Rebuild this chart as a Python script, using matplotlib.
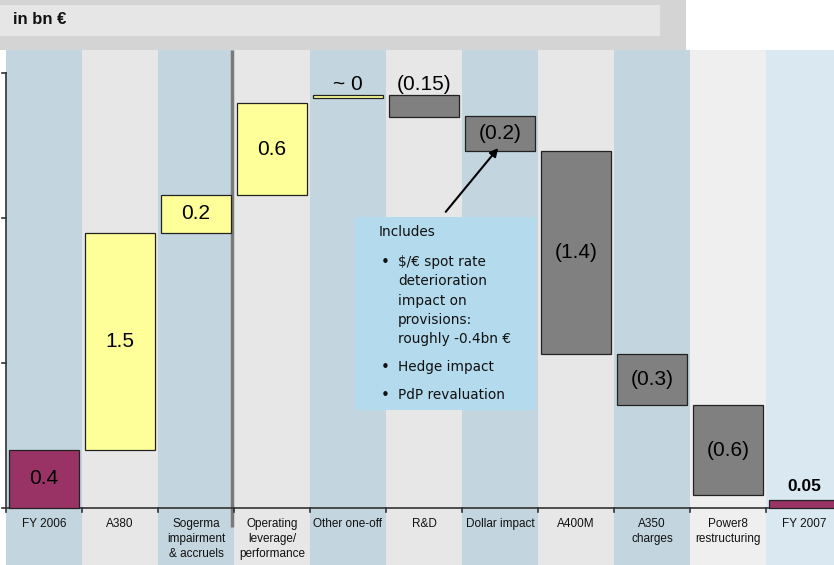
import matplotlib
matplotlib.use('Agg')
import matplotlib.pyplot as plt
from matplotlib.patches import Rectangle

# chart data (bn EUR)
categories = ['FY 2006', 'A380', 'Sogerma\nimpairment\n& accruels', 'Operating\nleverage/\nperformance',
              'Other one-off', 'R&D', 'Dollar impact', 'A400M', 'A350\ncharges',
              'Power8\nrestructuring', 'FY 2007']
bar_bottom = [0.0, 0.40, 1.90, 2.16, 2.83, 2.70, 2.46, 1.06, 0.71, 0.09, 0.0]
bar_top = [0.40, 1.90, 2.16, 2.79, 2.85, 2.85, 2.70, 2.46, 1.06, 0.71, 0.055]
value_labels = ['0.4', '1.5', '0.2', '0.6', '~ 0', '(0.15)', '(0.2)', '(1.4)', '(0.3)', '(0.6)', '0.05']
bar_kind = ['total', 'up', 'up', 'up', 'up', 'down', 'down', 'down', 'down', 'down', 'total']
y_ticks = [0, 1, 2, 3]

callout_title = 'Includes'
callout_items = ['$/€ spot rate\ndeterioration\nimpact on\nprovisions:\nroughly -0.4bn €',
                 'Hedge impact', 'PdP revaluation']

W, H = 834, 565
colors = {'total': '#993366', 'up': '#ffff99', 'down': '#808080'}

fig = plt.figure(figsize=(W / 100, H / 100), dpi=100)
ax = fig.add_axes([0, 0, 1, 1])
# 1 column = 76 px, 1 bn = 145 px, baseline at y=508 px, first column centre at x=44 px
ax.set_xlim((0 - 44) / 76, (W - 44) / 76)
ax.set_ylim((508 - H) / 145, 508 / 145)
ax.axis('off')


def px(x, y):
    # pixel position -> axes fraction
    return x / W, 1 - y / H


# header band
ax.add_patch(Rectangle((0, 1 - 50 / H), 686 / W, 50 / H, transform=ax.transAxes,
                       facecolor='#d4d4d4', edgecolor='none', zorder=0))
ax.add_patch(Rectangle((0, 1 - 36 / H), 660 / W, 31 / H, transform=ax.transAxes,
                       facecolor='#e6e6e6', edgecolor='none', zorder=0))
ax.text(*px(13, 20), 'in bn €', transform=ax.transAxes, fontsize=12, fontweight='bold',
        family='Liberation Sans', va='center', ha='left', color='#111111')

# column stripes
stripe_top = 1 - 50 / H
for i in range(len(categories)):
    if i % 2 == 0:
        c = '#dae9f1' if i == len(categories) - 1 else '#c3d5df'
    else:
        c = '#efefef' if i == 9 else '#e7e7e7'
    ax.axvspan(i - 0.5, i + 0.5, ymin=0, ymax=stripe_top, facecolor=c, edgecolor='none', zorder=0.5)

# separator line
ax.plot([2.47, 2.47], [-0.131, 3.159], color='#7a7a7a', lw=2.5, zorder=1, solid_capstyle='butt')

# axes lines and ticks
ax.plot([-0.5, -0.5], [0, 3], color='#333333', lw=1.2, zorder=2)
ax.plot([-0.5, 10.5], [0, 0], color='#333333', lw=1.2, zorder=2, clip_on=False)
for t in y_ticks:
    ax.plot([-0.55, -0.5], [t, t], color='#333333', lw=1.2, zorder=2)
for i in range(len(categories)):
    ax.plot([i - 0.5, i - 0.5], [0, -0.03], color='#333333', lw=1.2, zorder=2)

# bars
heights = [t - b for b, t in zip(bar_bottom, bar_top)]
ax.bar(range(len(categories)), heights, bottom=bar_bottom, width=0.92,
       color=[colors[k] for k in bar_kind], edgecolor='#222222', linewidth=0.9, zorder=3)

# value labels
for i, lab in enumerate(value_labels):
    if i in (4, 5):
        ax.text(i, 2.92, lab, ha='center', va='center', fontsize=15, family='Liberation Sans', zorder=4)
    elif i == 10:
        ax.text(i, 0.145, lab, ha='center', va='center', fontsize=12.5, fontweight='bold',
                family='Liberation Sans', zorder=4)
    else:
        ax.text(i, (bar_bottom[i] + bar_top[i]) / 2, lab, ha='center', va='center', fontsize=15,
                family='Liberation Sans', zorder=4)

# category labels
for i, cat in enumerate(categories):
    ax.text(i, -0.072, cat, ha='center', va='top', fontsize=8.5, family='Liberation Sans',
            linespacing=1.3, color='#111111', zorder=4)

# callout box
ax.add_patch(Rectangle(px(355, 410), 180 / W, 193 / H, transform=ax.transAxes,
                       facecolor='#b4daed', edgecolor='none', zorder=5))
ax.text(*px(379, 232), callout_title, transform=ax.transAxes, fontsize=9.8, family='DejaVu Sans',
        va='center', ha='left', color='#111111', zorder=6)
item_y = [255, 360, 388]
for y, item in zip(item_y, callout_items):
    ax.text(*px(385, y), '•', transform=ax.transAxes, fontsize=11, family='DejaVu Sans',
            va='top', ha='center', color='#111111', zorder=6)
    ax.text(*px(398, y), item, transform=ax.transAxes, fontsize=9.8, family='DejaVu Sans',
            va='top', ha='left', color='#111111', linespacing=1.48, zorder=6)

ax.annotate('', xy=(6.0, 2.497), xytext=(5.263, 2.028),
            arrowprops=dict(arrowstyle='-|>', color='black', lw=1.5, mutation_scale=12), zorder=6)

fig.savefig('out.png', dpi=100)
